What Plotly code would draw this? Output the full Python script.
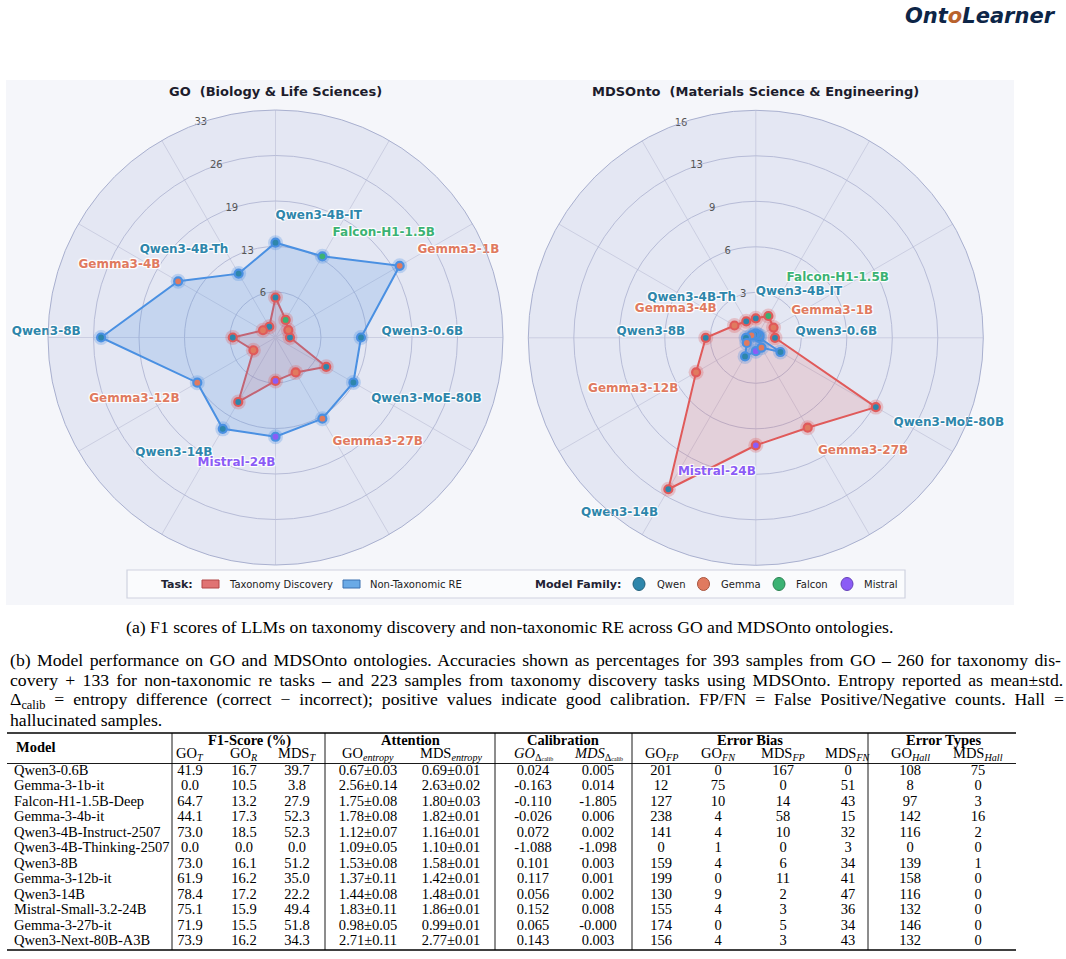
import numpy as np
import plotly.graph_objects as go

W, H = 1066, 959

# ---------------- radar data ----------------
radar_models = ["Qwen3-0.6B", "Gemma3-1B", "Falcon-H1-1.5B", "Qwen3-4B-IT", "Qwen3-4B-Th",
                "Gemma3-4B", "Qwen3-8B", "Gemma3-12B", "Qwen3-14B", "Mistral-24B",
                "Gemma3-27B", "Qwen3-MoE-80B"]
radar_families = ["Qwen", "Gemma", "Falcon", "Qwen", "Qwen", "Gemma", "Qwen", "Gemma",
                  "Qwen", "Mistral", "Gemma", "Qwen"]
go_taxonomy = [2.1, 2.15, 2.95, 5.8, 1.8, 2.1, 6.2, 3.7, 10.8, 6.3, 5.85, 8.5]
go_nontax = [12.4, 20.8, 13.6, 13.75, 10.7, 16.3, 25.3, 13.1, 15.3, 14.4, 13.6, 13.05]
mds_taxonomy = [1.35, 1.44, 1.77, 1.37, 1.34, 1.73, 3.52, 4.85, 12.3, 7.56, 7.3, 9.75]
mds_nontax = [0.25, 0.3, 0.25, 0.3, 0.25, 0.35, 0.69, 0.73, 1.51, 0.94, 0.8, 2.0]
go_rmax = 33
go_tick_text = ["6", "13", "19", "26", "33"]
mds_rmax = 16
mds_tick_text = ["3", "6", "9", "13", "16"]

task_names = ["Taxonomy Discovery", "Non-Taxonomic RE"]
family_names = ["Qwen", "Gemma", "Falcon", "Mistral"]

# ---------------- table data ----------------
table_models = ["Qwen3-0.6B", "Gemma-3-1b-it", "Falcon-H1-1.5B-Deep", "Gemma-3-4b-it",
                "Qwen3-4B-Instruct-2507", "Qwen3-4B-Thinking-2507", "Qwen3-8B", "Gemma-3-12b-it",
                "Qwen3-14B", "Mistral-Small-3.2-24B", "Gemma-3-27b-it", "Qwen3-Next-80B-A3B"]
f1_go_t = [41.9, 0.0, 64.7, 44.1, 73.0, 0.0, 73.0, 61.9, 78.4, 75.1, 71.9, 73.9]
f1_go_r = [16.7, 10.5, 13.2, 17.3, 18.5, 0.0, 16.1, 16.2, 17.2, 15.9, 15.5, 16.2]
f1_mds_t = [39.7, 3.8, 27.9, 52.3, 52.3, 0.0, 51.2, 35.0, 22.2, 49.4, 51.8, 34.3]
go_ent_mean = [0.67, 2.56, 1.75, 1.78, 1.12, 1.09, 1.53, 1.37, 1.44, 1.83, 0.98, 2.71]
go_ent_std = [0.03, 0.14, 0.08, 0.08, 0.07, 0.05, 0.08, 0.11, 0.08, 0.11, 0.05, 0.11]
mds_ent_mean = [0.69, 2.63, 1.80, 1.82, 1.16, 1.10, 1.58, 1.42, 1.48, 1.86, 0.99, 2.77]
mds_ent_std = [0.01, 0.02, 0.03, 0.01, 0.01, 0.01, 0.01, 0.01, 0.01, 0.01, 0.01, 0.01]
go_dcalib = [0.024, -0.163, -0.110, -0.026, 0.072, -1.088, 0.101, 0.117, 0.056, 0.152, 0.065, 0.143]
mds_dcalib = [0.005, 0.014, -1.805, 0.006, 0.002, -1.098, 0.003, 0.001, 0.002, 0.008, -0.0, 0.003]
go_fp = [201, 12, 127, 238, 141, 0, 159, 199, 130, 155, 174, 156]
go_fn = [0, 75, 10, 4, 4, 1, 4, 0, 9, 4, 0, 4]
mds_fp = [167, 0, 14, 58, 10, 0, 6, 11, 2, 3, 5, 3]
mds_fn = [0, 51, 43, 15, 32, 3, 34, 41, 47, 36, 34, 43]
go_hall = [108, 8, 97, 142, 116, 0, 139, 158, 116, 132, 146, 132]
mds_hall = [75, 0, 3, 16, 2, 0, 1, 0, 0, 0, 0, 0]

# ---------------- styles ----------------
RED = "#E05A5A"
BLUE = "#4A90E2"
RED_FILL = "rgba(224,90,90,0.16)"
BLUE_FILL = "rgba(74,144,226,0.20)"
FAM_COL = {"Qwen": "#2E86AB", "Gemma": "#E07A5F", "Falcon": "#3BB273", "Mistral": "#8B5CF6"}
FAM_EDGE = {"Qwen": "#1f5f7a", "Gemma": "#a8553f", "Falcon": "#27804f", "Mistral": "#6440b8"}
SANS = "DejaVu Sans"
SERIF = "Liberation Serif"
HALO = "1px 1px 1px #ffffff, -1px -1px 1px #ffffff, 1px -1px 1px #ffffff, -1px 1px 1px #ffffff"

R_PX = 227.5
LEFT_C = (275.5, 337.5)
RIGHT_C = (755.8, 337.8)


def domain(c):
    cx, cy = c
    return dict(x=[(cx - R_PX) / W, (cx + R_PX) / W], y=[1 - (cy + R_PX) / H, 1 - (cy - R_PX) / H])


fig = go.Figure()
n = len(radar_models)
theta = [i * 360.0 / n for i in range(n)]
fam_colors = [FAM_COL[f] for f in radar_families]


def add_radar(pid, tax, nontax, rmax, tick_text, nudges):
    thc = theta + [theta[0]]
    for vals, col, fc in [(tax, RED, RED_FILL), (nontax, BLUE, BLUE_FILL)]:
        fig.add_trace(go.Scatterpolar(r=vals + [vals[0]], theta=thc, mode="lines", fill="toself",
                                      fillcolor=fc, line=dict(color=col, width=2),
                                      subplot=pid, hoverinfo="skip", showlegend=False))
    for vals, col in [(tax, RED), (nontax, BLUE)]:
        fig.add_trace(go.Scatterpolar(r=vals, theta=theta, mode="markers",
                                      marker=dict(size=15, color=col, opacity=0.28),
                                      subplot=pid, hoverinfo="skip", showlegend=False))
        fig.add_trace(go.Scatterpolar(r=vals, theta=theta, mode="markers",
                                      marker=dict(size=8, color=fam_colors, line=dict(color=col, width=2.2)),
                                      subplot=pid, hoverinfo="skip", showlegend=False))
    # model labels
    lab_r, lab_pos = [], []
    for i, t in enumerate(theta):
        a = np.deg2rad(t)
        lab_r.append(max(tax[i], nontax[i]) + 0.09 * rmax + nudges.get(radar_models[i], 0) * rmax)
        v = "top" if np.sin(a) >= 0 else "bottom"
        h = "right" if np.cos(a) > 0 else "left"
        lab_pos.append(v + " " + h)
    fig.add_trace(go.Scatterpolar(r=lab_r, theta=theta, mode="text",
                                  text=["<b>%s</b>" % m for m in radar_models],
                                  textposition=lab_pos,
                                  textfont=dict(family=SANS, size=12, color=fam_colors, shadow=HALO),
                                  subplot=pid, hoverinfo="skip", showlegend=False, cliponaxis=False))
    # radial tick labels
    nt = len(tick_text)
    tv = [rmax * k / nt for k in range(1, nt + 1)]
    tth = [110 - 4.0 / k for k in range(1, nt + 1)]
    fig.add_trace(go.Scatterpolar(r=[v * 0.999 for v in tv], theta=tth, mode="text",
                                  text=tick_text, textposition="middle center",
                                  textfont=dict(family=SANS, size=10, color="#555555"),
                                  subplot=pid, hoverinfo="skip", showlegend=False, cliponaxis=False))
    return dict(
        domain=domain(LEFT_C if pid == "polar" else RIGHT_C),
        bgcolor="#e4e7f3",
        angularaxis=dict(type="linear", direction="counterclockwise", rotation=0, tickvals=theta,
                         showticklabels=False, ticks="", showgrid=True, gridcolor="#cbcee1",
                         gridwidth=0.8, showline=True, linecolor="#a9b0cf", linewidth=1),
        radialaxis=dict(range=[0, rmax], tickvals=tv, showticklabels=False, ticks="", showline=False,
                        gridcolor="#b7bcd7", gridwidth=0.8),
    )


polar1 = add_radar("polar", go_taxonomy, go_nontax, go_rmax, go_tick_text, {})
polar2 = add_radar("polar2", mds_taxonomy, mds_nontax, mds_rmax, mds_tick_text, {"Falcon-H1-1.5B": 0.07})

# ---------------- table (pixel-space cartesian axis) ----------------
col_x = [190, 244, 297, 368, 451, 533, 598, 661, 718, 783, 848, 910, 978]
model_x = 14
row_y0, row_pitch = 771, 15.5
row_y = [row_y0 + i * row_pitch for i in range(len(table_models))]
TFS = 14.5

columns = [
    ["%.1f" % v for v in f1_go_t],
    ["%.1f" % v for v in f1_go_r],
    ["%.1f" % v for v in f1_mds_t],
    ["%.2f±%.2f" % (m, s) for m, s in zip(go_ent_mean, go_ent_std)],
    ["%.2f±%.2f" % (m, s) for m, s in zip(mds_ent_mean, mds_ent_std)],
    ["%.3f" % v for v in go_dcalib],
    ["%.3f" % v for v in mds_dcalib],
    [str(v) for v in go_fp],
    [str(v) for v in go_fn],
    [str(v) for v in mds_fp],
    [str(v) for v in mds_fn],
    [str(v) for v in go_hall],
    [str(v) for v in mds_hall],
]
fig.add_trace(go.Scatter(x=[model_x] * len(table_models), y=row_y, text=table_models, mode="text",
                         textposition="middle right", textfont=dict(family=SERIF, size=TFS, color="black"),
                         hoverinfo="skip", showlegend=False, cliponaxis=False))
for cx, vals in zip(col_x, columns):
    fig.add_trace(go.Scatter(x=[cx] * len(vals), y=row_y, text=vals, mode="text",
                             textposition="middle center",
                             textfont=dict(family=SERIF, size=TFS, color="black"),
                             hoverinfo="skip", showlegend=False, cliponaxis=False))

ann = []


def txt(x, y, s, size, family=SANS, color="#222222", xanchor="center", yanchor="middle"):
    ann.append(dict(x=x, y=y, xref="x", yref="y", text=s, showarrow=False, xanchor=xanchor,
                    yanchor=yanchor, font=dict(family=family, size=size, color=color)))


sub_headers = ["GO<sub><i>T</i></sub>", "GO<sub><i>R</i></sub>", "MDS<sub><i>T</i></sub>",
               "GO<sub><i>entropy</i></sub>", "MDS<sub><i>entropy</i></sub>",
               "<i>GO</i><sub>Δ<span style='font-size:6px'>calib</span></sub>",
               "<i>MDS</i><sub>Δ<span style='font-size:6px'>calib</span></sub>",
               "GO<sub><i>FP</i></sub>", "GO<sub><i>FN</i></sub>", "MDS<sub><i>FP</i></sub>",
               "MDS<sub><i>FN</i></sub>", "GO<sub><i>Hall</i></sub>", "MDS<sub><i>Hall</i></sub>"]
for cx, s in zip(col_x, sub_headers):
    txt(cx, 754, s, TFS, SERIF, "black")
groups = [("F1-Score (%)", 249), ("Attention", 410), ("Calibration", 563), ("Error Bias", 750),
          ("Error Types", 943)]
for g, gx in groups:
    txt(gx, 740, "<b>%s</b>" % g, TFS, SERIF, "black")
txt(14, 747, "<b>Model</b>", TFS, SERIF, "black", xanchor="left")

shapes = []
tbl_l, tbl_r, tbl_t, tbl_b = 7, 1016, 733, 950
shapes.append(dict(type="line", xref="x", yref="y", x0=tbl_l, x1=tbl_r, y0=tbl_t, y1=tbl_t,
                   line=dict(color="black", width=1.6)))
shapes.append(dict(type="line", xref="x", yref="y", x0=tbl_l, x1=tbl_r, y0=763.5, y1=763.5,
                   line=dict(color="black", width=0.9)))
shapes.append(dict(type="line", xref="x", yref="y", x0=tbl_l, x1=tbl_r, y0=tbl_b, y1=tbl_b,
                   line=dict(color="black", width=1.6)))
for vx in [172, 325, 495, 632, 868]:
    shapes.append(dict(type="line", xref="x", yref="y", x0=vx, x1=vx, y0=tbl_t, y1=tbl_b,
                       line=dict(color="black", width=0.9)))

# ---------------- panel background, titles, legend ----------------
shapes.append(dict(type="rect", xref="x", yref="y", x0=6, x1=1014, y0=80, y1=605,
                   fillcolor="#f5f6fa", line=dict(width=0), layer="below"))
txt(LEFT_C[0], 91, "<b>GO\u00a0\u00a0(Biology & Life Sciences)</b>", 13, SANS, "#1c1c2c")
txt(RIGHT_C[0], 91, "<b>MDSOnto\u00a0\u00a0(Materials Science & Engineering)</b>", 13, SANS, "#1c1c2c")

shapes.append(dict(type="rect", xref="x", yref="y", x0=127, x1=905, y0=570, y1=598,
                   fillcolor="#fafbfd", line=dict(color="#cfd2df", width=1.2), layer="below"))
ly = 584
txt(159, ly, "<b>Task:</b>", 11, SANS, "#222233", xanchor="left")
for (px, tx), nm, col, fcol in zip([(202, 227), (343, 368)], task_names, ["#b34747", "#3a70b0"],
                                    ["#e07373", "#6aaae6"]):
    shapes.append(dict(type="rect", xref="x", yref="y", x0=px, x1=px + 17, y0=ly - 4, y1=ly + 4,
                       fillcolor=fcol, line=dict(color=col, width=1)))
    txt(tx, ly, nm, 10, SANS, "#222222", xanchor="left")
txt(533, ly, "<b>Model Family:</b>", 11, SANS, "#222233", xanchor="left")
for (cx, tx), fam in zip([(639, 655), (703.5, 719), (779, 794), (847, 862)], family_names):
    shapes.append(dict(type="circle", xref="x", yref="y", x0=cx - 6, x1=cx + 6, y0=ly - 6.5, y1=ly + 6.5,
                       fillcolor=FAM_COL[fam], line=dict(color=FAM_EDGE[fam], width=1)))
    txt(tx, ly, fam, 10, SANS, "#222222", xanchor="left")

# ---------------- logo & captions ----------------
txt(1058, 16, "<b><i>Ont<span style='color:#b9622c'>o</span>Learner</i></b>", 21, SANS, "#0d2547",
    xanchor="right")
CAP = 17.7
txt(509, 627, "(a) F1 scores of LLMs on taxonomy discovery and non-taxonomic RE across GO and MDSOnto ontologies.",
    CAP, SERIF, "black")
cap_lines = [
    "(b) Model performance on GO and MDSOnto ontologies. Accuracies shown as percentages for 393 samples from GO – 260 for taxonomy dis-",
    "covery + 133 for non-taxonomic re tasks – and 223 samples from taxonomy discovery tasks using MDSOnto. Entropy reported as mean±std.",
    "Δ<sub>calib</sub> = entropy difference (correct − incorrect); positive values indicate good calibration. FP/FN = False Positive/Negative counts. Hall =",
    "hallucinated samples.",
]
cap_word_spacing = [2.0, 2.8, 4.5, 0]
for i, (line, ws) in enumerate(zip(cap_lines, cap_word_spacing)):
    s = "<span style='word-spacing:%.1fpx'>%s</span>" % (ws, line) if ws else line
    txt(8, 660 + i * 20, s, CAP, SERIF, "black", xanchor="left")

fig.update_layout(
    width=W, height=H, margin=dict(l=0, r=0, t=0, b=0),
    paper_bgcolor="white", plot_bgcolor="rgba(0,0,0,0)",
    polar=polar1, polar2=polar2,
    xaxis=dict(range=[0, W], domain=[0, 1], visible=False, fixedrange=True),
    yaxis=dict(range=[H, 0], domain=[0, 1], visible=False, fixedrange=True),
    shapes=shapes, annotations=ann, showlegend=False,
)
fig.write_html("out.html")
